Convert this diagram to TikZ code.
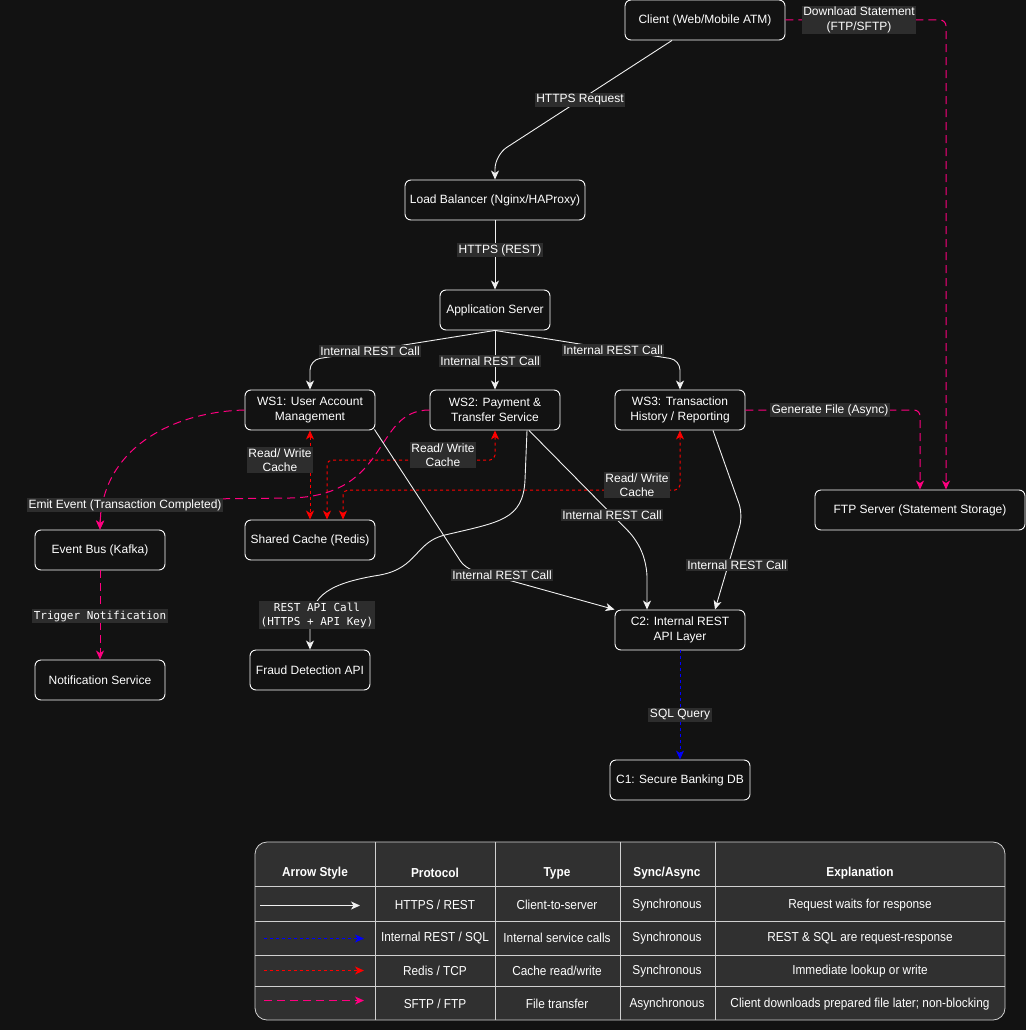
\documentclass[tikz,border=0pt]{standalone}
\usepackage{fontspec}
\setmainfont{Liberation Sans}
\newfontfamily\monofont{DejaVu Sans Mono}
\newfontfamily\narrowfont[FakeStretch=0.91]{Liberation Sans}
\usetikzlibrary{arrows.meta,calc}
\definecolor{bg}{HTML}{121212}
\definecolor{lblbg}{HTML}{2D2D2D}
\definecolor{tblbg}{HTML}{303030}
\definecolor{pinkc}{HTML}{FF0080}
\definecolor{redc}{HTML}{FF0000}
\definecolor{bluec}{HTML}{0000FF}
\definecolor{gridc}{HTML}{D0D0D0}
\definecolor{wlc}{HTML}{F0F0F0}
\begin{document}
\begin{tikzpicture}[x=1pt,y=-1pt,
  >={Stealth[length=9pt,width=8pt,inset=2.5pt]},
  every node/.style={text=white},
  box/.style={draw=white, fill=bg, rounded corners=6pt, line width=0.9pt, font=\fontsize{12}{15}\selectfont, align=center, inner sep=0pt, minimum height=40pt},
  lbl/.style={fill=lblbg, font=\fontsize{12}{14.5}\selectfont, align=center, inner sep=1.5pt},
  mlbl/.style={fill=lblbg, font=\monofont\fontsize{11}{14}\selectfont, align=center, inner sep=2pt},
  wline/.style={draw=wlc, line width=0.9pt, ->},
  rline/.style={draw=redc, line width=1pt, dash pattern=on 3pt off 3pt, ->},
  bline/.style={draw=bluec, line width=1pt, dash pattern=on 3pt off 3pt, ->},
  pline/.style={draw=pinkc, line width=1pt, dash pattern=on 8pt off 5pt, ->},
  tcell/.style={font=\narrowfont\fontsize{13}{15}\selectfont, inner sep=0pt},
  thead/.style={font=\narrowfont\bfseries\fontsize{13}{15}\selectfont, inner sep=0pt}
]
\useasboundingbox (0,0) rectangle (1026,1030);
\fill[bg] (0,0) rectangle (1026,1030);

% nodes
\node[box, minimum width=160pt] (client) at (705,20) {Client (Web/Mobile ATM)};
\node[box, minimum width=180pt] (lb) at (495,200) {Load Balancer (Nginx/HAProxy)};
\node[box, minimum width=110pt] (app) at (495,310) {Application Server};
\node[box, minimum width=130pt] (ws1) at (310,410) {WS1: User Account\\Management};
\node[box, minimum width=130pt] (ws2) at (495,410) {WS2: Payment \&\\Transfer Service};
\node[box, minimum width=130pt] (ws3) at (680,410) {WS3: Transaction\\History / Reporting};
\node[box, minimum width=130pt] (cache) at (310,540) {Shared Cache (Redis)};
\node[box, minimum width=130pt] (bus) at (100,550) {Event Bus (Kafka)};
\node[box, minimum width=130pt] (notif) at (100,680) {Notification Service};
\node[box, minimum width=120pt] (fraud) at (310,670) {Fraud Detection API};
\node[box, minimum width=130pt] (c2) at (680,630) {C2: Internal REST\\API Layer};
\node[box, minimum width=140pt] (c1) at (680,780) {C1: Secure Banking DB};
\node[box, minimum width=210pt] (ftp) at (920,510) {FTP Server (Statement Storage)};

% white edges
\draw[wline, rounded corners=14pt] ([xshift=-33pt]client.south) -- (495,155) -- (lb.north);
\draw[wline] (lb.south) -- (app.north);
\draw[wline, rounded corners=10pt] (app.south) -- (310,360) -- (ws1.north);
\draw[wline] (app.south) -- (ws2.north);
\draw[wline, rounded corners=10pt] (app.south) -- (680,360) -- (ws3.north);

% red cache edges
\draw[rline, <->] (ws1.south) -- (cache.north);
\draw[rline, <->, rounded corners=5pt] (ws2.south) -- (495,460) -- (327,460) -- ([xshift=17pt]cache.north);
\draw[rline, <->, rounded corners=5pt] (ws3.south) -- (680,490) -- (343,490) -- ([xshift=33pt]cache.north);

% pink edges
\draw[pline] (ws1.west) .. controls (170,412) and (102,450) .. (bus.north);
\draw[pline] (ws2.west) .. controls (372,410) and (392,496) .. (290,498) -- (118,500) .. controls (103,500) and (100,508) .. (bus.north);
\draw[pline] (bus.south) -- (notif.north);
\draw[pline, rounded corners=6pt] (ws3.east) -- (920,410) -- (ftp.north);
\draw[pline, rounded corners=6pt] (client.east) -- (946,20) -- ([xshift=26pt]ftp.north);

% white edges to fraud / C2
\draw[wline] ([xshift=32pt]ws2.south) -- (525,480) .. controls (523,520) and (500,522) .. (445,535) .. controls (415,542) and (418,568) .. (380,575) .. controls (330,583) and (311,595) .. (310,625) -- (fraud.north);
\draw[wline, rounded corners=8pt] ([xshift=-1pt,yshift=1pt]ws1.south east) -- (465,568) -- (c2.north west);
\draw[wline, rounded corners=12pt] ([xshift=34pt]ws2.south) -- (637,540) -- (647,565) -- ([xshift=-33pt]c2.north);
\draw[wline, rounded corners=12pt] ([xshift=33pt]ws3.south) -- (743,515) -- ([xshift=35pt]c2.north);

% blue
\draw[bline] (c2.south) -- (c1.north);

% labels
\node[lbl] (l1) at (580,100) {HTTPS Request};
\node[lbl] (l2) at (500,250) {HTTPS (REST)};
\node[lbl] (l3) at (370,351) {Internal REST Call};
\node[lbl] (l4) at (490,361) {Internal REST Call};
\node[lbl] (l5) at (613,350) {Internal REST Call};
\node[lbl] (l6) at (280,460) {Read/ Write\\Cache};
\node[lbl] (l7) at (443,455) {Read/ Write\\Cache};
\node[lbl] (l8) at (637,485) {Read/ Write\\Cache};
\node[lbl] (l9) at (125,505) {Emit Event (Transaction Completed)};
\node[mlbl] (l10) at (100,616) {Trigger Notification};
\node[mlbl] (l11) at (317,615) {REST API Call\\(HTTPS + API Key)};
\node[lbl] (l12) at (502,575) {Internal REST Call};
\node[lbl] (l13) at (612,515) {Internal REST Call};
\node[lbl] (l14) at (737,565) {Internal REST Call};
\node[lbl] (l15) at (680,715) {SQL Query};
\node[lbl] (l16) at (830,410) {Generate File (Async)};
\node[lbl] (l17) at (859,20) {Download Statement\\(FTP/SFTP)};

% legend table
\draw[draw=gridc, fill=tblbg, rounded corners=12pt, line width=0.8pt] (255,842) rectangle (1005,1020);
\foreach \cx in {375,495,620,715} \draw[gridc, line width=0.8pt] (\cx,842) -- (\cx,1020);
\foreach \ry in {886,921,955,986} \draw[gridc, line width=0.8pt] (255,\ry) -- (1005,\ry);

\node[thead] (h1) at (315,873) {Arrow Style};
\node[thead] (h2) at (435,873) {Protocol};
\node[thead] (h3) at (557,873) {Type};
\node[thead] (h4) at (667,873) {Sync/Async};
\node[thead] (h5) at (860,873) {Explanation};

\coordinate (s1a) at (260,905.5); \coordinate (s1b) at (360,905.5);
\coordinate (s2a) at (264,938.5); \coordinate (s2b) at (364,938.5);
\coordinate (s3a) at (264,970.5); \coordinate (s3b) at (364,970.5);
\coordinate (s4a) at (264,1000.5); \coordinate (s4b) at (364,1000.5);
\draw[wline] (s1a) -- (s1b);
\draw[bline] (s2a) -- (s2b);
\draw[rline] (s3a) -- (s3b);
\draw[pline] (s4a) -- (s4b);

\node[tcell] (r1b) at (435,905) {HTTPS / REST};
\node[tcell] (r1c) at (557,905) {Client-to-server};
\node[tcell] (r1d) at (667,905) {Synchronous};
\node[tcell] (r1e) at (860,905) {Request waits for response};
\node[tcell] (r2b) at (435,938) {Internal REST / SQL};
\node[tcell] (r2c) at (557,938) {Internal service calls};
\node[tcell] (r2d) at (667,938) {Synchronous};
\node[tcell] (r2e) at (860,938) {REST \& SQL are request-response};
\node[tcell] (r3b) at (435,971) {Redis / TCP};
\node[tcell] (r3c) at (557,971) {Cache read/write};
\node[tcell] (r3d) at (667,971) {Synchronous};
\node[tcell] (r3e) at (860,971) {Immediate lookup or write};
\node[tcell] (r4b) at (435,1004) {SFTP / FTP};
\node[tcell] (r4c) at (557,1004) {File transfer};
\node[tcell] (r4d) at (667,1004) {Asynchronous};
\node[tcell] (r4e) at (860,1004) {Client downloads prepared file later; non-blocking};
\end{tikzpicture}
\end{document}
